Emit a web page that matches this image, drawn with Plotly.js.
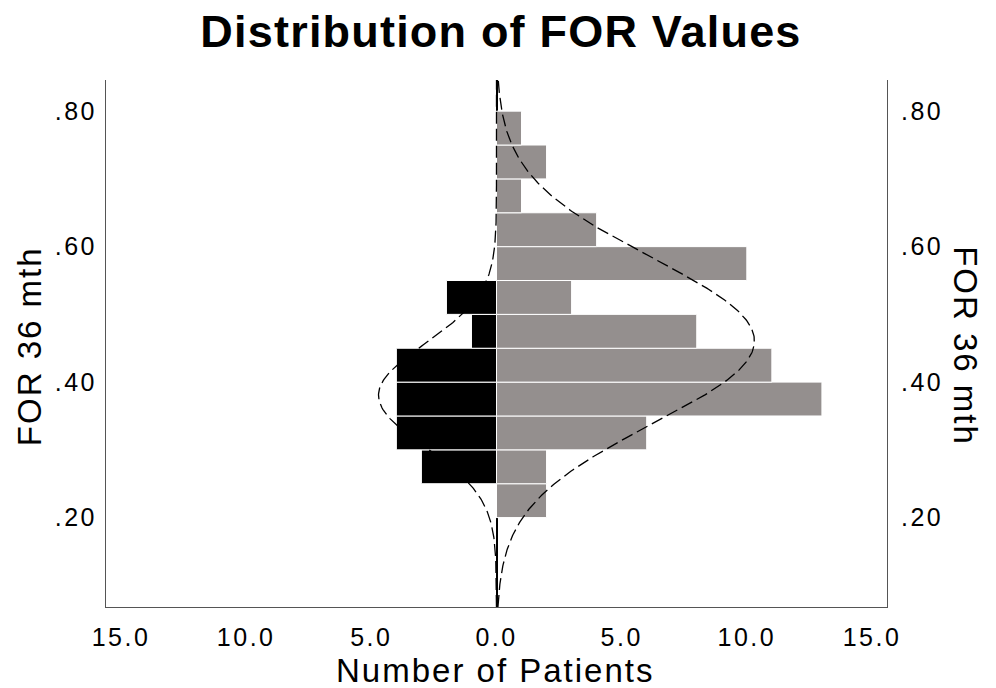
<!DOCTYPE html>
<html>
<head>
<meta charset="utf-8">
<script src="https://cdn.plot.ly/plotly-3.0.1.min.js"></script>
<style>
  body { margin: 0; background: #fff; }
  #chart { width: 996px; height: 688px; }
  .gtitle { letter-spacing: 1.2px; }
  .annotation-text { letter-spacing: 2px; }
  .xtick text, .ytick text, .y2tick text { letter-spacing: 2.5px; }
</style>
</head>
<body>
<div id="chart"></div>
<script>
// Bin centres of FOR 36 mth (bin width 0.05)
const binCenters   = [0.225, 0.275, 0.325, 0.375, 0.425, 0.475, 0.525, 0.575, 0.625, 0.675, 0.725, 0.775];
// Counts for the right-hand (grey) group
const rightCounts  = [2, 2, 6, 13, 11, 8, 3, 10, 4, 1, 2, 1];
// Counts for the left-hand (black) group
const leftCounts   = [0, 3, 4, 4, 4, 1, 2, 0, 0, 0, 0, 0];
const binWidth = 0.05;

const xTickVals  = [-15, -10, -5, 0, 5, 10, 15];
const xTickText  = ['15.0', '10.0', '5.0', '0.0', '5.0', '10.0', '15.0'];
const yTickVals  = [0.2, 0.4, 0.6, 0.8];
const yTickText  = ['.20', '.40', '.60', '.80'];
const yRange = [0.068, 0.846];

// normal curve from the data's mean / sd
function stats(counts) {
  let n = 0, s = 0;
  counts.forEach((c, i) => { n += c; s += c * binCenters[i]; });
  const m = s / n;
  let v = 0;
  counts.forEach((c, i) => { v += c * (binCenters[i] - m) ** 2; });
  return { n: n, mean: m, sd: Math.sqrt(v / n) };
}
function normalCurve(counts, sign) {
  const st = stats(counts);
  const ys = [], xs = [];
  const steps = 400;
  for (let k = 0; k <= steps; k++) {
    const y = yRange[0] + (yRange[1] - yRange[0]) * k / steps;
    const z = (y - st.mean) / st.sd;
    const pdf = Math.exp(-0.5 * z * z) / (st.sd * Math.sqrt(2 * Math.PI));
    ys.push(y);
    xs.push(sign * st.n * binWidth * pdf);
  }
  return { x: xs, y: ys };
}
const rc = normalCurve(rightCounts, 1);
const lc = normalCurve(leftCounts, -1);

const font = 'Liberation Sans, Arial, Helvetica, sans-serif';

const traces = [
  {
    type: 'bar', orientation: 'h',
    y: binCenters, x: rightCounts, width: binWidth,
    marker: { color: '#948f8e', line: { color: '#ffffff', width: 1 } },
    hoverinfo: 'x+y', showlegend: false
  },
  {
    type: 'bar', orientation: 'h',
    y: binCenters, x: leftCounts.map(v => -v), width: binWidth,
    marker: { color: '#000000', line: { color: '#ffffff', width: 1 } },
    hoverinfo: 'x+y', showlegend: false
  },
  {
    type: 'scatter', mode: 'lines', x: rc.x, y: rc.y,
    line: { color: '#000000', width: 1.3, dash: '12px,5px' },
    hoverinfo: 'skip', showlegend: false
  },
  {
    type: 'scatter', mode: 'lines', x: lc.x, y: lc.y,
    line: { color: '#000000', width: 1.3, dash: '12px,5px' },
    hoverinfo: 'skip', showlegend: false
  },
  {
    type: 'scatter', mode: 'lines', x: [0, 0], y: yRange, yaxis: 'y2',
    line: { color: 'rgba(0,0,0,0)', width: 0 }, hoverinfo: 'skip', showlegend: false
  }
];

const layout = {
  width: 996, height: 688,
  margin: { l: 106, r: 109, t: 80, b: 81 },
  paper_bgcolor: '#ffffff', plot_bgcolor: '#ffffff',
  barmode: 'overlay', bargap: 0,
  font: { family: font, color: '#000000' },
  title: {
    text: 'Distribution of FOR Values',
    font: { family: font, size: 45, weight: 'bold', color: '#000000' },
    x: 0.503, xref: 'container', xanchor: 'center',
    y: 0.954, yref: 'container', yanchor: 'middle'
  },
  xaxis: {
    range: [-15.6, 15.6],
    tickvals: xTickVals, ticktext: xTickText,
    tickfont: { family: font, size: 25, color: '#000000' },
    ticks: '', showgrid: false,
    zeroline: true, zerolinecolor: '#000000', zerolinewidth: 2,
    showline: true, linecolor: '#555555', linewidth: 1, mirror: false,
    ticklabelstandoff: 8
  },
  yaxis: {
    range: yRange,
    tickvals: yTickVals, ticktext: yTickText,
    tickfont: { family: font, size: 25, color: '#000000' },
    ticks: '', showgrid: false, zeroline: false,
    showline: true, linecolor: '#555555', linewidth: 1,
    ticklabelstandoff: 3
  },
  yaxis2: {
    range: yRange, overlaying: 'y', side: 'right',
    tickvals: yTickVals, ticktext: yTickText,
    tickfont: { family: font, size: 25, color: '#000000' },
    ticks: '', showgrid: false, zeroline: false,
    showline: true, linecolor: '#555555', linewidth: 1,
    ticklabelstandoff: 8
  },
  annotations: [
    {
      text: 'Number of Patients', xref: 'paper', yref: 'paper',
      x: 0.498, y: -0.121, xanchor: 'center', yanchor: 'middle',
      showarrow: false, font: { family: font, size: 33, color: '#000000' }
    },
    {
      text: 'FOR 36 mth', xref: 'paper', yref: 'paper',
      x: (29 - 106) / 781, y: 0.495, xanchor: 'center', yanchor: 'middle',
      textangle: -90, showarrow: false, font: { family: font, size: 33, color: '#000000' }
    },
    {
      text: 'FOR 36 mth', xref: 'paper', yref: 'paper',
      x: (966 - 106) / 781, y: 0.495, xanchor: 'center', yanchor: 'middle',
      textangle: 90, showarrow: false, font: { family: font, size: 33, color: '#000000' }
    }
  ]
};

Plotly.newPlot('chart', traces, layout, { displayModeBar: false, staticPlot: true });
</script>
</body>
</html>
